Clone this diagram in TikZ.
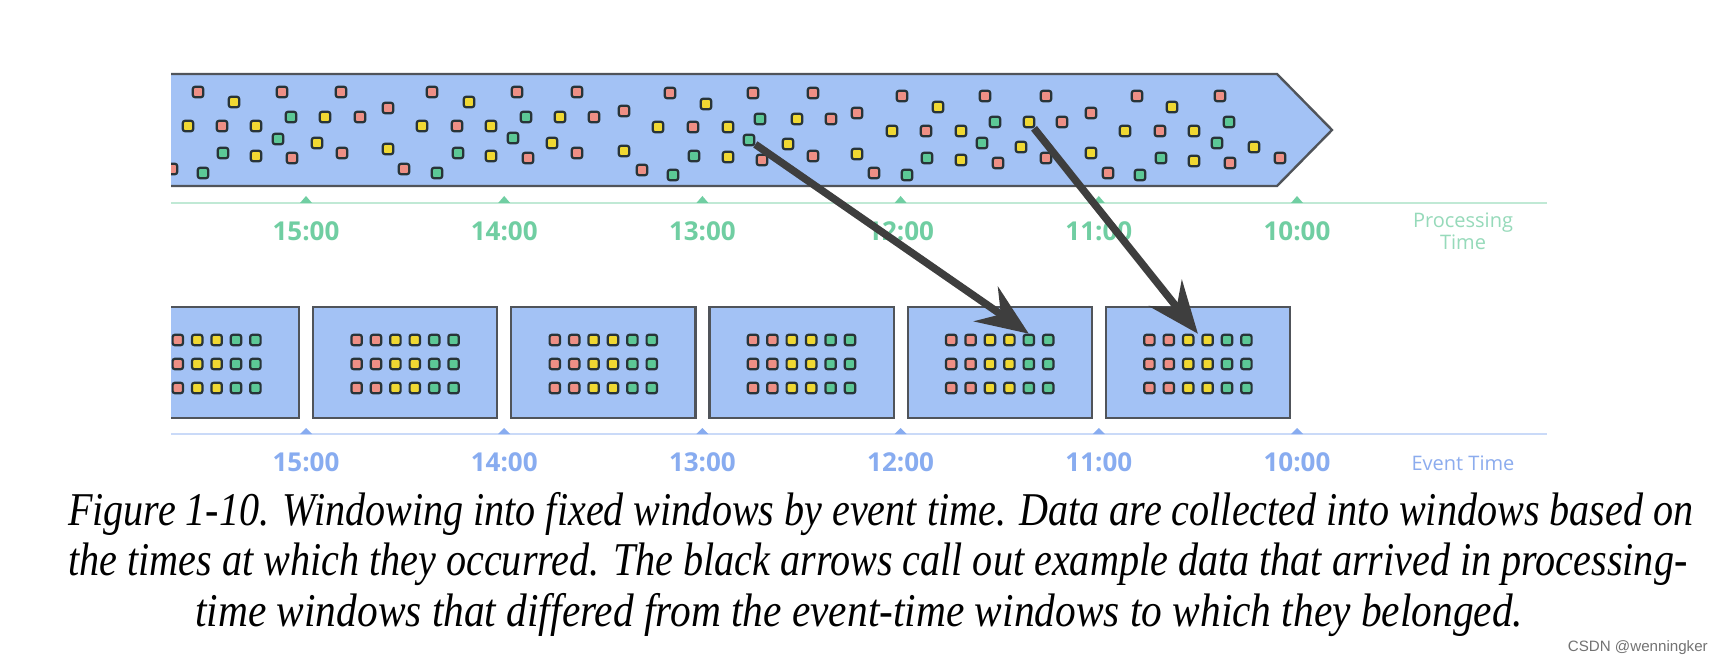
\documentclass[tikz,border=0pt]{standalone}
\usepackage{fontspec}
\setmainfont{Liberation Serif}
\newfontfamily\labelfont{Open Sans}
\newfontfamily\wmfont{Liberation Sans}
\usetikzlibrary{arrows.meta,calc}
\definecolor{bandblue}{RGB}{163,194,245}
\definecolor{edgegray}{RGB}{80,84,90}
\definecolor{sqR}{RGB}{238,143,133}
\definecolor{sqY}{RGB}{240,216,50}
\definecolor{sqG}{RGB}{92,200,150}
\definecolor{sqedge}{RGB}{40,52,56}
\definecolor{ptgreen}{RGB}{112,206,162}
\definecolor{ptline}{RGB}{192,233,213}
\definecolor{ptname}{RGB}{150,218,186}
\definecolor{etblue}{RGB}{136,172,240}
\definecolor{etline}{RGB}{202,218,248}
\definecolor{etname}{RGB}{140,172,238}
\definecolor{arrowgray}{RGB}{62,62,62}
\begin{document}
\begin{tikzpicture}[x=1pt,y=-1pt,
  sq/.style={draw=sqedge,line width=2.2pt,rounded corners=2.2pt,minimum size=10.4pt,inner sep=0pt},
  winbox/.style={draw=edgegray,line width=2.2pt,fill=bandblue,minimum width=184.2pt,minimum height=111pt,inner sep=0pt},
  ptlab/.style={text=ptgreen,font=\labelfont\bfseries\fontsize{26}{30}\selectfont,inner sep=0pt},
  etlab/.style={text=etblue,font=\labelfont\bfseries\fontsize{26}{30}\selectfont,inner sep=0pt},
  axisname/.style={font=\labelfont\fontsize{20}{22}\selectfont,inner sep=0pt,align=center},
  bigarrow/.style={draw=arrowgray,line width=7.5pt,-{Stealth[length=52pt,width=42pt,inset=18pt]}},
  captionline/.style={anchor=base west,inner sep=0pt,text=black}
]
\useasboundingbox[fill=white] (0,0) rectangle (1718,668);

\begin{scope}
\clip (171,0) rectangle (1718,668);
% processing-time band
\path[fill=bandblue,draw=edgegray,line width=2.4pt]
  (150,74) -- (1277,74) -- (1332,130) -- (1277,186) -- (150,186);
\foreach \px/\py/\c [count=\n] in {
 198/92/R, 234/102/Y, 282/92/R, 341/92/R, 432/92/R, 388/108/R, 291/117/G, 325/117/Y,
 360/117/R, 188/126/Y, 222/126/R, 256/126/Y, 422/126/Y, 457/126/R, 278/139/G, 317/143/Y,
 223/153/G, 256/156/Y, 292/158/R, 342/153/R, 388/149/Y, 458/153/G, 172/169/R, 203/173/G,
 404/169/R, 437/173/G,
 469/102/Y, 517/92/R, 577/92/R, 670/93/R, 753/93/R, 706/104/Y, 624/111/R, 526/117/G,
 560/117/Y, 594/117/R, 760/119/G, 491/126/Y, 658/127/Y, 693/127/R, 728/127/Y, 513/138/G,
 552/143/Y, 491/156/Y, 528/158/R, 577/153/R, 624/151/Y, 694/156/G, 728/157/Y,
 762/160/R, 642/170/R, 673/175/G,
 813/93/R, 902/96/R, 985/96/R, 1046/96/R, 938/107/Y, 857/113/R, 797/119/Y, 831/119/R,
 995/122/G, 1062/122/R, 892/131/Y, 926/131/R, 961/131/Y, 788/144/Y, 982/143/G,
 1021/147/Y, 813/156/R, 857/154/Y, 927/158/G, 961/160/Y, 998/163/R, 1046/158/R,
 874/173/R, 907/175/G,
 1137/96/R, 1220/96/R, 1091/113/R, 1172/107/Y, 1229/122/G, 1125/131/Y, 1160/131/R,
 1194/131/Y, 1217/143/G, 1254/147/Y, 1091/153/Y, 1161/158/G, 1194/161/Y, 1230/163/R,
 1280/158/R, 1108/173/R, 1140/175/G}
  \node[sq,fill=sq\c] (b\n) at (\px,\py) {};
\node[sq,fill=sqG] (a1) at (749,140) {};
\node[sq,fill=sqY] (a2) at (1029,122) {};

% event-time windows
\foreach \i in {0,...,5} {
  \pgfmathsetmacro\cx{206.9+198.2*\i}
  \node[winbox] (w\i) at (\cx,362.5) {};
  \foreach \c/\col in {1/R,2/R,3/Y,4/Y,5/G,6/G} {
    \foreach \r/\ry in {1/340,2/364,3/388} {
      \node[sq,fill=sq\col] (w\i-\c-\r) at ({\cx+(\c-3.5)*19.4},\ry) {};
    }
  }
}
\end{scope}

% axes
\draw[ptline,line width=2.2pt] (171,203) -- (1547,203);
\draw[etline,line width=2.2pt] (171,434) -- (1547,434);
\foreach \t/\lab [count=\k] in {306/15:00,504.2/14:00,702.4/13:00,900.6/12:00,1098.8/11:00,1297/10:00} {
  \fill[ptgreen] (\t-6,203) -- (\t,196) -- (\t+6,203) -- cycle;
  \node[ptlab] (p\k) at (\t,231) {\lab};
  \fill[etblue] (\t-6,434) -- (\t,428) -- (\t+6,434) -- cycle;
  \node[etlab] (e\k) at (\t,462) {\lab};
}
\node[axisname,text=ptname] (ptn) at (1463,231) {Processing\\Time};
\node[axisname,text=etname] (etn) at (1463,463) {Event Time};

% callout arrows
\coordinate (t2) at ($(w5-3-1.north east)!0.5!(w5-4-1.north west)$);
\draw[bigarrow] (a1) -- (w4-5-1.north);
\draw[bigarrow] (a2) -- (t2);

% caption
\node[captionline] (cap1) at (68,525) {\resizebox{1625pt}{\height}{\fontsize{47}{50}\selectfont\itshape Figure 1-10. Windowing into fixed windows by event time. Data are collected into windows based on}};
\node[captionline] (cap2) at (68,575) {\resizebox{1619pt}{\height}{\fontsize{47}{50}\selectfont\itshape the times at which they occurred. The black arrows call out example data that arrived in processing-}};
\node[captionline] (cap3) at (195,626) {\resizebox{1328pt}{\height}{\fontsize{47}{50}\selectfont\itshape time windows that differed from the event-time windows to which they belonged.}};
\node[anchor=base east,inner sep=0pt,text=black!55] (wm) at (1708,651) {\resizebox{140pt}{\height}{\wmfont\fontsize{15}{18}\selectfont CSDN @wenningker}};
\end{tikzpicture}
\end{document}
